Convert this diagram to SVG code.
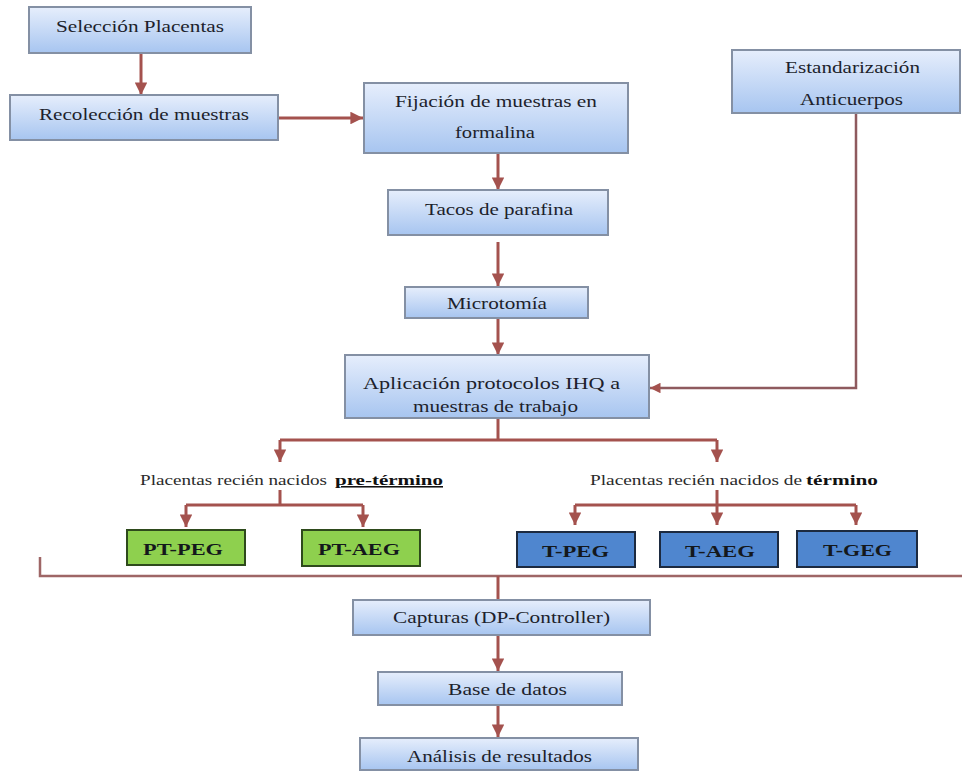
<svg xmlns="http://www.w3.org/2000/svg" width="962" height="773" viewBox="0 0 962 773">
<defs>
<linearGradient id="bg" x1="0" y1="0" x2="0" y2="1">
<stop offset="0" stop-color="#e6eefc"/>
<stop offset="1" stop-color="#a7c5f0"/>
</linearGradient>
<marker id="ah" viewBox="0 0 10 10" refX="10" refY="5" markerWidth="4.2" markerHeight="4.2" orient="auto" markerUnits="strokeWidth">
<path d="M0,0 L10,5 L0,10 z" fill="#a4524e"/>
</marker>
<style>
.box{fill:url(#bg);stroke:#8490a4;stroke-width:2}
.g{fill:#8ed04e;stroke:#2e4a1c;stroke-width:2}
.b{fill:#4f86cf;stroke:#1c2a40;stroke-width:2}
.t{font-size:17.5px;fill:#1d1f2c}
.tb{font-size:17.5px;font-weight:bold;fill:#14181c}
.s{font-size:15.5px;fill:#2a2a2a}
.sb{font-size:15.5px;font-weight:bold;fill:#111}
.c{fill:none;stroke:#a4524e;stroke-width:3}
.cl{fill:none;stroke:#9e6666;stroke-width:2.5}
</style>
</defs>
<rect width="962" height="773" fill="#ffffff"/>
<g id="connectors">
<path class="c" d="M141,53 V95" marker-end="url(#ah)"/>
<path class="c" d="M278,118 H363" marker-end="url(#ah)"/>
<path class="c" d="M498,153 V190" marker-end="url(#ah)"/>
<path class="c" d="M498,242 V286" marker-end="url(#ah)"/>
<path class="c" d="M498,318 V355" marker-end="url(#ah)"/>
<path class="cl" d="M856,113 V388 H650" marker-end="url(#ah)" style="stroke:#8e5a5e"/>
<path class="c" d="M498,418 V440"/>
<path class="c" d="M280,440 H717"/>
<path class="c" d="M280,440 V462" marker-end="url(#ah)"/>
<path class="c" d="M717,440 V462" marker-end="url(#ah)"/>
<path class="c" d="M280,490 V505 M186,505 H363"/>
<path class="c" d="M186,505 V527" marker-end="url(#ah)"/>
<path class="c" d="M363,505 V527" marker-end="url(#ah)"/>
<path class="c" d="M717,490 V505 M575,505 H856"/>
<path class="c" d="M575,505 V525" marker-end="url(#ah)"/>
<path class="c" d="M717,505 V525" marker-end="url(#ah)"/>
<path class="c" d="M856,505 V525" marker-end="url(#ah)"/>
<path class="cl" d="M40,557 V576 H962"/>
<path class="c" d="M498,576 V600"/>
<path class="c" d="M498,635 V671" marker-end="url(#ah)"/>
<path class="c" d="M498,705 V737" marker-end="url(#ah)"/>
</g>
<g id="n-seleccion">
<rect class="box" x="29" y="7" width="222" height="46"/>
<text class="t" font-family="'Liberation Serif', serif" x="56" y="32" textLength="168" lengthAdjust="spacingAndGlyphs">Selección Placentas</text>
</g>
<g id="n-recoleccion">
<rect class="box" x="10" y="95" width="268" height="45"/>
<text class="t" font-family="'Liberation Serif', serif" x="39" y="120" textLength="210" lengthAdjust="spacingAndGlyphs">Recolección de muestras</text>
</g>
<g id="n-fijacion">
<rect class="box" x="364" y="83" width="264" height="70"/>
<text class="t" font-family="'Liberation Serif', serif" x="395" y="107" textLength="202" lengthAdjust="spacingAndGlyphs">Fijación de muestras en</text>
<text class="t" font-family="'Liberation Serif', serif" x="455" y="138" textLength="80" lengthAdjust="spacingAndGlyphs">formalina</text>
</g>
<g id="n-estandarizacion">
<rect class="box" x="732" y="50" width="228" height="63"/>
<text class="t" font-family="'Liberation Serif', serif" x="785" y="73" textLength="135" lengthAdjust="spacingAndGlyphs">Estandarización</text>
<text class="t" font-family="'Liberation Serif', serif" x="800" y="105" textLength="103" lengthAdjust="spacingAndGlyphs">Anticuerpos</text>
</g>
<g id="n-tacos">
<rect class="box" x="388" y="190" width="220" height="45"/>
<text class="t" font-family="'Liberation Serif', serif" x="425" y="215" textLength="148" lengthAdjust="spacingAndGlyphs">Tacos de parafina</text>
</g>
<g id="n-microtomia">
<rect class="box" x="405" y="287" width="183" height="31"/>
<text class="t" font-family="'Liberation Serif', serif" x="447" y="309" textLength="100" lengthAdjust="spacingAndGlyphs">Microtomía</text>
</g>
<g id="n-aplicacion">
<rect class="box" x="345" y="355" width="304" height="63"/>
<text class="t" font-family="'Liberation Serif', serif" x="363" y="389" textLength="257" lengthAdjust="spacingAndGlyphs">Aplicación protocolos IHQ a</text>
<text class="t" font-family="'Liberation Serif', serif" x="413" y="412" textLength="165" lengthAdjust="spacingAndGlyphs">muestras de trabajo</text>
</g>
<g id="n-pretermino">
<text class="s" font-family="'Liberation Serif', serif" x="140" y="485" textLength="187" lengthAdjust="spacingAndGlyphs">Placentas recién nacidos</text>
<text class="sb" font-family="'Liberation Serif', serif" x="335" y="485" textLength="108" lengthAdjust="spacingAndGlyphs" text-decoration="underline">pre-término</text>
</g>
<g id="n-termino">
<text class="s" font-family="'Liberation Serif', serif" x="590" y="485" textLength="212" lengthAdjust="spacingAndGlyphs">Placentas recién nacidos de</text>
<text class="sb" font-family="'Liberation Serif', serif" x="806" y="485" textLength="72" lengthAdjust="spacingAndGlyphs">término</text>
</g>
<g id="n-pt-peg">
<rect class="g" x="127" y="530" width="118" height="35"/>
<text class="tb" font-family="'Liberation Serif', serif" x="143" y="555" textLength="80" lengthAdjust="spacingAndGlyphs">PT-PEG</text>
</g>
<g id="n-pt-aeg">
<rect class="g" x="302" y="530" width="118" height="36"/>
<text class="tb" font-family="'Liberation Serif', serif" x="318" y="555" textLength="82" lengthAdjust="spacingAndGlyphs">PT-AEG</text>
</g>
<g id="n-t-peg">
<rect class="b" x="517" y="532" width="118" height="35"/>
<text class="tb" font-family="'Liberation Serif', serif" x="542" y="557" textLength="67" lengthAdjust="spacingAndGlyphs">T-PEG</text>
</g>
<g id="n-t-aeg">
<rect class="b" x="660" y="532" width="118" height="35"/>
<text class="tb" font-family="'Liberation Serif', serif" x="685" y="557" textLength="70" lengthAdjust="spacingAndGlyphs">T-AEG</text>
</g>
<g id="n-t-geg">
<rect class="b" x="797" y="531" width="120" height="36"/>
<text class="tb" font-family="'Liberation Serif', serif" x="823" y="556" textLength="69" lengthAdjust="spacingAndGlyphs">T-GEG</text>
</g>
<g id="n-capturas">
<rect class="box" x="353" y="600" width="297" height="35"/>
<text class="t" font-family="'Liberation Serif', serif" x="393" y="623" textLength="217" lengthAdjust="spacingAndGlyphs">Capturas (DP-Controller)</text>
</g>
<g id="n-base">
<rect class="box" x="378" y="672" width="244" height="33"/>
<text class="t" font-family="'Liberation Serif', serif" x="448" y="695" textLength="119" lengthAdjust="spacingAndGlyphs">Base de datos</text>
</g>
<g id="n-analisis">
<rect class="box" x="360" y="738" width="278" height="32"/>
<text class="t" font-family="'Liberation Serif', serif" x="407" y="762" textLength="185" lengthAdjust="spacingAndGlyphs">Análisis de resultados</text>
</g>
</svg>
